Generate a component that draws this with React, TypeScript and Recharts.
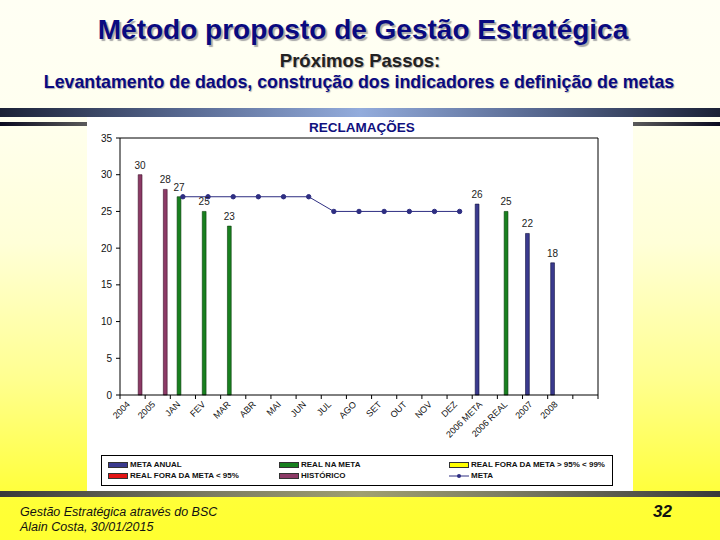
import React from 'react';
import {
  ComposedChart, Bar, Line, XAxis, YAxis, CartesianGrid, LabelList, Legend,
} from 'recharts';

const CATEGORIES = [
  '2004', '2005', 'JAN', 'FEV', 'MAR', 'ABR', 'MAI', 'JUN', 'JUL', 'AGO',
  'SET', 'OUT', 'NOV', 'DEZ', '2006 META', '2006 REAL', '2007', '2008', '',
];

const META_ANUAL = [null, null, null, null, null, null, null, null, null, null, null, null, null, null, 26, null, 22, 18, null];
const REAL_NA_META = [null, null, 27, 25, 23, null, null, null, null, null, null, null, null, null, null, 25, null, null, null];
const REAL_FORA_95_99 = [null, null, null, null, null, null, null, null, null, null, null, null, null, null, null, null, null, null, null];
const REAL_FORA_95 = [null, null, null, null, null, null, null, null, null, null, null, null, null, null, null, null, null, null, null];
const HISTORICO = [30, 28, null, null, null, null, null, null, null, null, null, null, null, null, null, null, null, null, null];
const META = [null, null, 27, 27, 27, 27, 27, 27, 25, 25, 25, 25, 25, 25, null, null, null, null, null];

const Y_TICKS = [0, 5, 10, 15, 20, 25, 30, 35];

const COLORS = {
  metaAnual: '#3a3a8e',
  realNaMeta: '#18801f',
  foraAlta: '#ffff00',
  foraBaixa: '#e31414',
  historico: '#8c3a66',
  meta: '#2e2e82',
};

const FONT = '"Liberation Sans", Arial, sans-serif';
const PLOT_LEFT = 120;
const PLOT_RIGHT = 598;
const BAND = (PLOT_RIGHT - PLOT_LEFT) / CATEGORIES.length;

const data = CATEGORIES.map((name, i) => ({
  name,
  metaAnual: META_ANUAL[i],
  realNaMeta: REAL_NA_META[i],
  foraAlta: REAL_FORA_95_99[i],
  foraBaixa: REAL_FORA_95[i],
  historico: HISTORICO[i],
  meta: META[i],
}));

const LEGEND_ITEMS = [
  { label: 'META ANUAL', color: COLORS.metaAnual },
  { label: 'REAL NA META', color: COLORS.realNaMeta },
  { label: 'REAL FORA DA META > 95% < 99%', color: COLORS.foraAlta },
  { label: 'REAL FORA DA META < 95%', color: COLORS.foraBaixa },
  { label: 'HISTÓRICO', color: COLORS.historico },
  { label: 'META', color: COLORS.meta, line: true },
];

function XTick(props: any) {
  const { x, y, payload, index } = props;
  const last = index === CATEGORIES.length - 1;
  return (
    <g>
      <line x1={x - BAND / 2} x2={x - BAND / 2} y1={y} y2={y + 4} stroke="#000" />
      {last && <line x1={x + BAND / 2} x2={x + BAND / 2} y1={y} y2={y + 4} stroke="#000" />}
      <text
        x={x - 2}
        y={y + 10}
        transform={`rotate(-45 ${x - 2} ${y + 10})`}
        textAnchor="end"
        fontSize={9}
        fontFamily={FONT}
        fill="#111"
      >
        {payload.value}
      </text>
    </g>
  );
}

function ValueLabel(props: any) {
  const { x, y, width, value } = props;
  if (value == null) return null;
  return (
    <text x={x + width / 2} y={y - 6} textAnchor="middle" fontSize={10} fontFamily={FONT} fill="#222">
      {value}
    </text>
  );
}

function LegendBox() {
  return (
    <div
      style={{
        width: 510,
        height: 26,
        border: '1px solid #000',
        background: '#fff',
        fontFamily: FONT,
        fontSize: 8,
        fontWeight: 'bold',
        color: '#111',
        display: 'grid',
        gridTemplateColumns: '171px 170px 169px',
        gridTemplateRows: '11px 11px',
        paddingTop: 3,
        boxSizing: 'content-box',
      }}
    >
      {LEGEND_ITEMS.map((item) => (
        <div key={item.label} style={{ display: 'flex', alignItems: 'center', paddingLeft: 6, whiteSpace: 'nowrap' }}>
          {item.line ? (
            <svg width={20} height={8} style={{ marginRight: 2 }}>
              <line x1={0} x2={20} y1={4} y2={4} stroke={item.color} strokeWidth={1} />
              <circle cx={10} cy={4} r={2} fill={item.color} />
            </svg>
          ) : (
            <span
              style={{
                display: 'inline-block',
                width: 18,
                height: 4,
                background: item.color,
                border: '1px solid #333',
                marginRight: 2,
              }}
            />
          )}
          {item.label}
        </div>
      ))}
    </div>
  );
}

export default function App() {
  return (
    <div
      style={{
        position: 'absolute',
        left: 0,
        top: 0,
        width: 720,
        height: 540,
        overflow: 'hidden',
        fontFamily: FONT,
        background: 'linear-gradient(to bottom, #fffff4 0%, #fffff0 20%, #ffffd8 45%, #ffff90 70%, #ffff38 92%, #ffff30 100%)',
      }}
    >
      {/* slide titles */}
      <div style={{ position: 'absolute', top: 14, width: 726, textAlign: 'center', fontSize: 28, fontWeight: 'bold', color: '#0a0a80', textShadow: '2px 2px 1px #a9a9a9' }}>
        Método proposto de Gestão Estratégica
      </div>
      <div style={{ position: 'absolute', top: 50, width: 720, textAlign: 'center', fontSize: 18.5, fontWeight: 'bold', color: '#222', textShadow: '1px 1px 1px #b0b0b0' }}>
        Próximos Passos:
      </div>
      <div style={{ position: 'absolute', top: 72, width: 718, textAlign: 'center', fontSize: 17.8, fontWeight: 'bold', color: '#0a0a80', textShadow: '1px 1px 1px #b0b0b0' }}>
        Levantamento de dados, construção dos indicadores e definição de metas
      </div>

      {/* decorative bands */}
      <div style={{ position: 'absolute', top: 108, left: 0, width: 720, height: 9, background: 'linear-gradient(to right, #1b2136 0%, #56678f 25%, #93acdc 50%, #56678f 75%, #1b2136 100%)' }} />
      <div style={{ position: 'absolute', top: 122, left: 0, width: 87, height: 4, background: 'linear-gradient(to right, #0a0a20, #5a5a5a)' }} />
      <div style={{ position: 'absolute', top: 122, left: 633, width: 87, height: 4, background: 'linear-gradient(to right, #5a5a5a, #0a0a20)' }} />
      <div style={{ position: 'absolute', top: 491, left: 0, width: 720, height: 6, background: 'linear-gradient(to right, #3a3a3a 0%, #7d7d62 30%, #a0a070 50%, #7d7d62 70%, #3a3a3a 100%)' }} />

      {/* chart panel */}
      <div style={{ position: 'absolute', top: 117, left: 87, width: 546, height: 374, background: '#fff' }} />
      <div style={{ position: 'absolute', top: 120, width: 724, textAlign: 'center', fontSize: 13.5, fontWeight: 'bold', color: '#10107e' }}>
        RECLAMAÇÕES
      </div>

      <div style={{ position: 'absolute', left: 0, top: 0 }}>
        <ComposedChart
          width={720}
          height={540}
          data={data}
          margin={{ top: 138, right: 720 - PLOT_RIGHT, bottom: 85, left: 90 }}
          barSize={3.8}
          barGap={0}
        >
          <CartesianGrid
            stroke="#000"
            horizontalCoordinatesGenerator={({ offset }: any) => [offset.top]}
            verticalCoordinatesGenerator={({ offset }: any) => [offset.left + offset.width]}
          />
          <XAxis
            dataKey="name"
            interval={0}
            tickSize={0}
            tickMargin={0}
            height={60}
            axisLine={{ stroke: '#000' }}
            tick={<XTick />}
          />
          <YAxis
            domain={[0, 35]}
            ticks={Y_TICKS}
            width={30}
            tickSize={4}
            tickMargin={4}
            axisLine={{ stroke: '#000' }}
            tickLine={{ stroke: '#000' }}
            tick={{ fontSize: 10, fontFamily: FONT, fill: '#111' }}
          />
          <Bar dataKey="metaAnual" name="META ANUAL" fill={COLORS.metaAnual} stroke="#10103a" strokeWidth={0.6} isAnimationActive={false}>
            <LabelList dataKey="metaAnual" content={<ValueLabel />} />
          </Bar>
          <Bar dataKey="realNaMeta" name="REAL NA META" fill={COLORS.realNaMeta} stroke="#0a3a0a" strokeWidth={0.6} isAnimationActive={false}>
            <LabelList dataKey="realNaMeta" content={<ValueLabel />} />
          </Bar>
          <Bar dataKey="foraAlta" name="REAL FORA DA META > 95% < 99%" fill={COLORS.foraAlta} isAnimationActive={false} />
          <Bar dataKey="foraBaixa" name="REAL FORA DA META < 95%" fill={COLORS.foraBaixa} isAnimationActive={false} />
          <Bar dataKey="historico" name="HISTÓRICO" fill={COLORS.historico} stroke="#3a1028" strokeWidth={0.6} isAnimationActive={false}>
            <LabelList dataKey="historico" content={<ValueLabel />} />
          </Bar>
          <Line
            dataKey="meta"
            name="META"
            stroke={COLORS.meta}
            strokeWidth={1}
            dot={{ r: 2.2, fill: COLORS.meta, stroke: COLORS.meta }}
            activeDot={false}
            isAnimationActive={false}
          />
          <Legend
            layout="horizontal"
            align="center"
            verticalAlign="middle"
            wrapperStyle={{ left: 101, top: 455, width: 512, height: 30 }}
            content={() => <LegendBox />}
          />
        </ComposedChart>
      </div>

      {/* footer */}
      <div style={{ position: 'absolute', left: 20, top: 505, fontSize: 12.5, fontStyle: 'italic', color: '#111', lineHeight: '15px' }}>
        Gestão Estratégica através do BSC<br />Alain Costa, 30/01/2015
      </div>
      <div style={{ position: 'absolute', left: 653, top: 502, fontSize: 17, fontStyle: 'italic', fontWeight: 'bold', color: '#111' }}>
        32
      </div>
    </div>
  );
}
